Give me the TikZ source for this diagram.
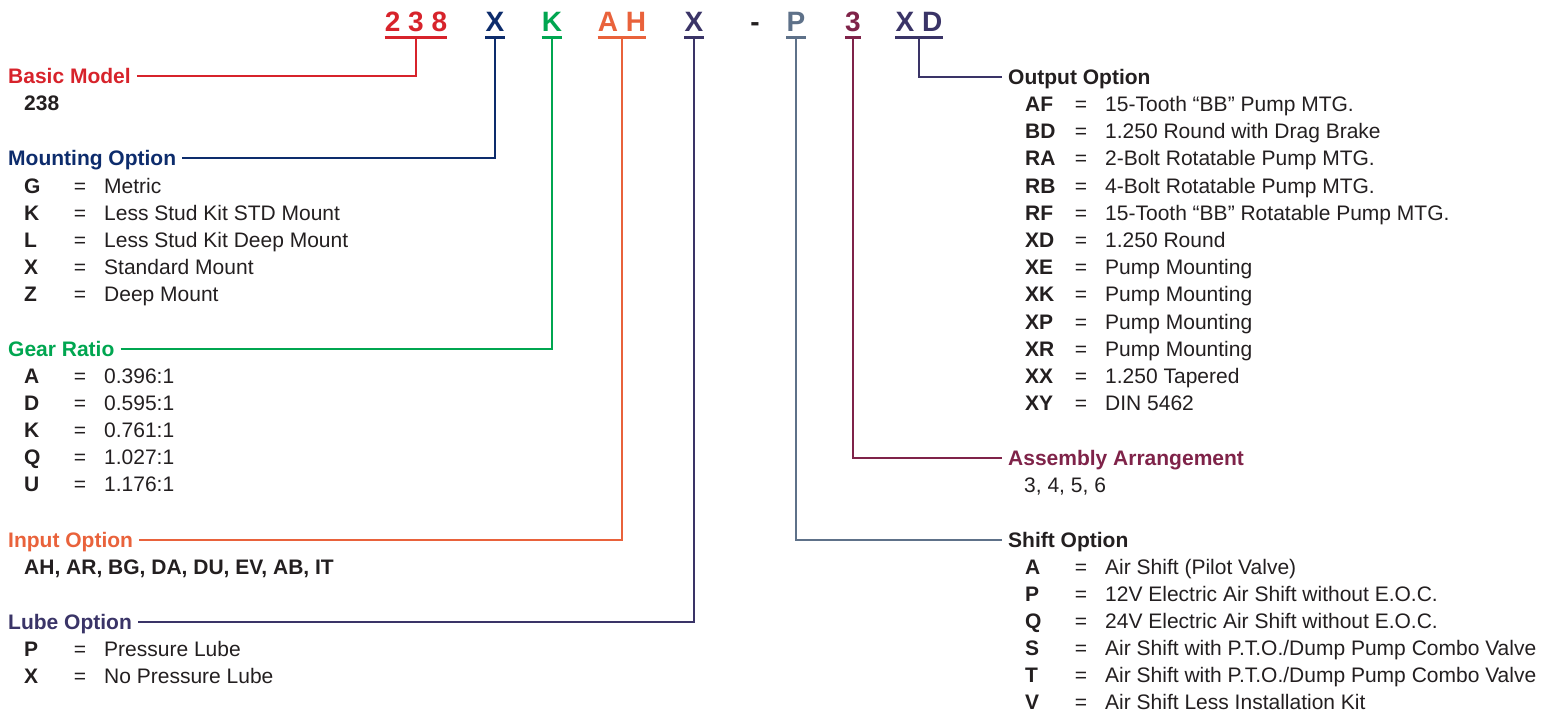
\documentclass[tikz,border=0pt]{standalone}
\usepackage{fontspec}
\setmainfont{Liberation Sans}
\definecolor{ink}{HTML}{231F20}
\definecolor{cred}{HTML}{D7232B}
\definecolor{cnavy}{HTML}{0D2C6C}
\definecolor{cgreen}{HTML}{00A650}
\definecolor{corange}{HTML}{E9623B}
\definecolor{cpurple}{HTML}{3A3467}
\definecolor{cslate}{HTML}{5E7189}
\definecolor{cmaroon}{HTML}{7F2349}
\newcommand\orow[5]{%
  \node[keytxt] (#1k) at (#2,#3) {#4};
  \node[eqtxt] (#1e) at ({#2+56},#3) {=};
  \node[itm] (#1v) at ({#2+80},#3) {#5};}
\begin{document}
\begin{tikzpicture}[x=1pt,y=-1pt,
  hdr/.style={font=\bfseries\fontsize{21}{25}\selectfont, inner sep=0pt, anchor=west, text height=15pt, text depth=0pt},
  itm/.style={font=\fontsize{21}{25}\selectfont, inner sep=0pt, anchor=west, text height=15pt, text depth=0pt, text=ink},
  keytxt/.style={itm, font=\bfseries\fontsize{21}{25}\selectfont},
  eqtxt/.style={itm, anchor=center},
  code/.style={font=\bfseries\fontsize{28}{32}\selectfont, inner sep=0pt, anchor=base},
  link/.style={line width=2pt},
  uline/.style={line width=3pt}]
\useasboundingbox (0,0) rectangle (1554,715);
% top code
\node[code, text=cred] (c1) at (416,31) {2 3 8};
\node[code, text=cnavy] (c2) at (495,31) {X};
\node[code, text=cgreen] (c3) at (552,31) {K};
\node[code, text=corange] (c4) at (622,31) {A H};
\node[code, text=cpurple] (c5) at (694,31) {X};
\node[code, text=ink] (c6) at (755,31) {-};
\node[code, text=cslate] (c7) at (796,31) {P};
\node[code, text=cmaroon] (c8) at (853,31) {3};
\node[code, text=cpurple] (c9) at (919,31) {X D};
\foreach \c/\col in {c1/cred,c2/cnavy,c3/cgreen,c4/corange,c5/cpurple,c7/cslate,c8/cmaroon,c9/cpurple}
  \draw[uline, \col] ([yshift=-6pt]\c.base west) -- ([yshift=-6pt]\c.base east);
% left side
\node[hdr, text=cred] (bm) at (8,76) {Basic Model};
\node[keytxt] (bmv) at (24,103) {238};
\node[hdr, text=cnavy] (mo) at (8,158) {Mounting Option};
\orow{mo1}{24}{186}{G}{Metric}
\orow{mo2}{24}{213}{K}{Less Stud Kit STD Mount}
\orow{mo3}{24}{240}{L}{Less Stud Kit Deep Mount}
\orow{mo4}{24}{267}{X}{Standard Mount}
\orow{mo5}{24}{294}{Z}{Deep Mount}
\node[hdr, text=cgreen] (gr) at (8,349) {Gear Ratio};
\orow{gr1}{24}{376}{A}{0.396:1}
\orow{gr2}{24}{403}{D}{0.595:1}
\orow{gr3}{24}{430}{K}{0.761:1}
\orow{gr4}{24}{457}{Q}{1.027:1}
\orow{gr5}{24}{484}{U}{1.176:1}
\node[hdr, text=corange] (io) at (8,540) {Input Option};
\node[keytxt] (iov) at (24,567) {AH, AR, BG, DA, DU, EV, AB, IT};
\node[hdr, text=cpurple] (lo) at (8,622) {Lube Option};
\orow{lo1}{24}{649}{P}{Pressure Lube}
\orow{lo2}{24}{676}{X}{No Pressure Lube}
% right side
\node[hdr, text=ink] (oo) at (1008,77) {Output Option};
\orow{oo1}{1025}{104}{AF}{15-Tooth “BB” Pump MTG.}
\orow{oo2}{1025}{131}{BD}{1.250 Round with Drag Brake}
\orow{oo3}{1025}{158}{RA}{2-Bolt Rotatable Pump MTG.}
\orow{oo4}{1025}{186}{RB}{4-Bolt Rotatable Pump MTG.}
\orow{oo5}{1025}{213}{RF}{15-Tooth “BB” Rotatable Pump MTG.}
\orow{oo6}{1025}{240}{XD}{1.250 Round}
\orow{oo7}{1025}{267}{XE}{Pump Mounting}
\orow{oo8}{1025}{294}{XK}{Pump Mounting}
\orow{oo9}{1025}{322}{XP}{Pump Mounting}
\orow{oo10}{1025}{349}{XR}{Pump Mounting}
\orow{oo11}{1025}{376}{XX}{1.250 Tapered}
\orow{oo12}{1025}{403}{XY}{DIN 5462}
\node[hdr, text=cmaroon] (aa) at (1008,458) {Assembly Arrangement};
\node[itm] (aav) at (1024,485) {3, 4, 5, 6};
\node[hdr, text=ink] (so) at (1008,540) {Shift Option};
\orow{so1}{1025}{567}{A}{Air Shift (Pilot Valve)}
\orow{so2}{1025}{594}{P}{12V Electric Air Shift without E.O.C.}
\orow{so3}{1025}{621}{Q}{24V Electric Air Shift without E.O.C.}
\orow{so4}{1025}{648}{S}{Air Shift with P.T.O./Dump Pump Combo Valve}
\orow{so5}{1025}{675}{T}{Air Shift with P.T.O./Dump Pump Combo Valve}
\orow{so6}{1025}{702}{V}{Air Shift Less Installation Kit}
% connectors
\draw[link, cred] ([xshift=6pt]bm.east) -| ([yshift=-6pt]c1.base);
\draw[link, cnavy] ([xshift=6pt]mo.east) -| ([yshift=-6pt]c2.base);
\draw[link, cgreen] ([xshift=6pt]gr.east) -| ([yshift=-6pt]c3.base);
\draw[link, corange] ([xshift=6pt]io.east) -| ([yshift=-6pt]c4.base);
\draw[link, cpurple] ([xshift=6pt]lo.east) -| ([yshift=-6pt]c5.base);
\draw[link, cpurple] ([yshift=-6pt]c9.base) |- ([xshift=-6pt]oo.west);
\draw[link, cmaroon] ([yshift=-6pt]c8.base) |- ([xshift=-6pt]aa.west);
\draw[link, cslate] ([yshift=-6pt]c7.base) |- ([xshift=-6pt]so.west);
\end{tikzpicture}
\end{document}
